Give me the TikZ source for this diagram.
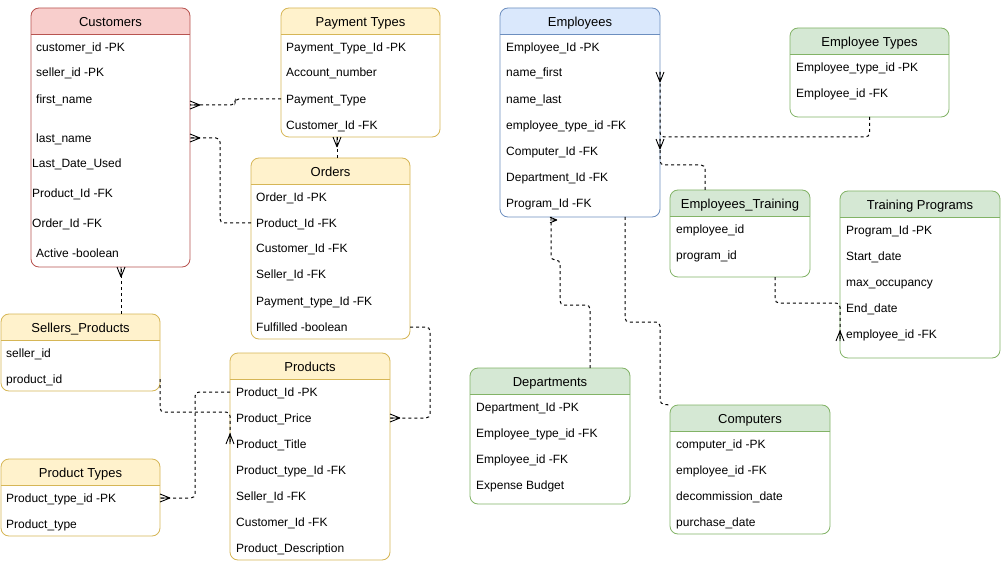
\documentclass[tikz,border=0pt]{standalone}
\usepackage{fontspec}
\setmainfont{Liberation Sans}
\usetikzlibrary{calc}
\definecolor{pinkF}{HTML}{F8CECC}\definecolor{pinkS}{HTML}{B85450}
\definecolor{yelF}{HTML}{FFF2CC}\definecolor{yelS}{HTML}{D6B656}
\definecolor{bluF}{HTML}{DAE8FC}\definecolor{bluS}{HTML}{6C8EBF}
\definecolor{grnF}{HTML}{D5E8D4}\definecolor{grnS}{HTML}{82B366}
\tikzset{
 row/.style={anchor=west, inner sep=0pt, text height=8.6pt, text depth=0pt, font=\fontsize{12}{14}\selectfont},
 hdr/.style={inner sep=0pt, text height=9.3pt, text depth=0pt, font=\fontsize{13}{15}\selectfont, yshift=-1pt},
 conn/.style={draw=black, line width=1pt, dash pattern=on 3pt off 3pt, rounded corners=4pt},
 crow/.pic={\draw[line width=0.9pt, solid] (10,0) -- (0,4) (10,0) -- (0,-4) (10,0) -- (0,0);},
}
\newcommand\ertab[9]{%
 \pgfmathsetmacro\ertW{#4-#2}\pgfmathsetmacro\ertH{#5-#3}%
 \begin{scope}\clip (#2,#3) rectangle (#4,#6);
 \fill[#7, rounded corners=8pt] (#2,#3) rectangle (#4,#5);\end{scope}
 \draw[#8, line width=0.8pt] (#2,#6) -- (#4,#6);
 \node[draw=#8, line width=0.8pt, rounded corners=8pt, inner sep=0pt, outer sep=0pt,
   minimum width=\ertW pt, minimum height=\ertH pt, anchor=north west] (#1) at (#2,#3) {};
 \node[hdr] (#1-t) at ($(#2,#3)!0.5!(#4,#6)$) {#9};
}
\begin{document}
\begin{tikzpicture}[x=1pt,y=-1pt]
\useasboundingbox (0,0) rectangle (1001,564);
\fill[white] (0,0) rectangle (1001,564);

% Customers
\ertab{cust}{31}{8}{190}{267}{34}{pinkF}{pinkS}{Customers}
\node[row] (cust-r1) at (36,47) {customer\_id -PK};
\node[row] (cust-r2) at (36,72) {seller\_id -PK};
\node[row] (cust-r3) at (36,99) {first\_name};
\node[row] (cust-r4) at (36,138) {last\_name};
\node[row] (cust-r5) at (32,163) {Last\_Date\_Used};
\node[row] (cust-r6) at (32,193) {Product\_Id -FK};
\node[row] (cust-r7) at (32,223) {Order\_Id -FK};
\node[row] (cust-r8) at (36,253) {Active -boolean};

% Payment Types
\ertab{pay}{281}{8}{440}{137}{34}{yelF}{yelS}{Payment Types}
\node[row] (pay-r1) at (286,47) {Payment\_Type\_Id -PK};
\node[row] (pay-r2) at (286,72) {Account\_number};
\node[row] (pay-r3) at (286,99) {Payment\_Type};
\node[row] (pay-r4) at (286,125) {Customer\_Id -FK};

% Orders
\ertab{ord}{251}{158}{410}{339}{184}{yelF}{yelS}{Orders}
\node[row] (ord-r1) at (256,197) {Order\_Id -PK};
\node[row] (ord-r2) at (256,223) {Product\_Id -FK};
\node[row] (ord-r3) at (256,248) {Customer\_Id -FK};
\node[row] (ord-r4) at (256,274) {Seller\_Id -FK};
\node[row] (ord-r5) at (256,301) {Payment\_type\_Id -FK};
\node[row] (ord-r6) at (256,327) {Fulfilled -boolean};

% Sellers_Products
\ertab{sp}{1}{314}{160}{391}{340}{yelF}{yelS}{Sellers\_Products}
\node[row] (sp-r1) at (6,353) {seller\_id};
\node[row] (sp-r2) at (6,379) {product\_id};

% Products
\ertab{prod}{230}{353}{390}{560}{379}{yelF}{yelS}{Products}
\node[row] (prod-r1) at (236,392) {Product\_Id -PK};
\node[row] (prod-r2) at (236,418) {Product\_Price};
\node[row] (prod-r3) at (236,444) {Product\_Title};
\node[row] (prod-r4) at (236,470) {Product\_type\_Id -FK};
\node[row] (prod-r5) at (236,496) {Seller\_Id -FK};
\node[row] (prod-r6) at (236,522) {Customer\_Id -FK};
\node[row] (prod-r7) at (236,548) {Product\_Description};

% Product Types
\ertab{ptyp}{1}{459}{160}{536}{485}{yelF}{yelS}{Product Types}
\node[row] (ptyp-r1) at (6,498) {Product\_type\_id -PK};
\node[row] (ptyp-r2) at (6,524) {Product\_type};

% Employees
\ertab{emp}{500}{8}{660}{217}{34}{bluF}{bluS}{Employees}
\node[row] (emp-r1) at (506,47) {Employee\_Id -PK};
\node[row] (emp-r2) at (506,72) {name\_first};
\node[row] (emp-r3) at (506,99) {name\_last};
\node[row] (emp-r4) at (506,125) {employee\_type\_id -FK};
\node[row] (emp-r5) at (506,151) {Computer\_Id -FK};
\node[row] (emp-r6) at (506,177) {Department\_Id -FK};
\node[row] (emp-r7) at (506,203) {Program\_Id -FK};

% Employee Types
\ertab{etyp}{790}{28}{949}{117}{54}{grnF}{grnS}{Employee Types}
\node[row] (etyp-r1) at (796,67) {Employee\_type\_id -PK};
\node[row] (etyp-r2) at (796,93) {Employee\_id -FK};

% Employees_Training
\ertab{etr}{670}{190}{810}{277}{216}{grnF}{grnS}{Employees\_Training}
\node[row] (etr-r1) at (676,229) {employee\_id};
\node[row] (etr-r2) at (676,255) {program\_id};

% Training Programs
\ertab{tp}{840}{191}{1000}{358}{217}{grnF}{grnS}{Training Programs}
\node[row] (tp-r1) at (846,230) {Program\_Id -PK};
\node[row] (tp-r2) at (846,256) {Start\_date};
\node[row] (tp-r3) at (846,282) {max\_occupancy};
\node[row] (tp-r4) at (846,308) {End\_date};
\node[row] (tp-r5) at (846,334) {employee\_id -FK};

% Departments
\ertab{dep}{470}{368}{630}{504}{394}{grnF}{grnS}{Departments}
\node[row] (dep-r1) at (476,407) {Department\_Id -PK};
\node[row] (dep-r2) at (476,433) {Employee\_type\_id -FK};
\node[row] (dep-r3) at (476,459) {Employee\_id -FK};
\node[row] (dep-r4) at (476,485) {Expense Budget};

% Computers
\ertab{comp}{670}{405}{830}{534}{431}{grnF}{grnS}{Computers}
\node[row] (comp-r1) at (676,444) {computer\_id -PK};
\node[row] (comp-r2) at (676,470) {employee\_id -FK};
\node[row] (comp-r3) at (676,496) {decommission\_date};
\node[row] (comp-r4) at (676,522) {purchase\_date};

% Connectors
\draw[conn] (pay.west |- pay-r3) -- (235,99) -- (235,105) -- (cust.east |- 0,105);
\pic at (cust.east |- 0,105) {crow};

\draw[conn] (ord.west |- ord-r2) -| (220,138) -- (cust.east |- cust-r4);
\pic at (cust.east |- cust-r4) {crow};

\draw[conn] (ord.north -| 337,0) -- (pay.south -| 337,0);
\pic[rotate=-90] at (pay.south -| 337,0) {crow};

\draw[conn] (sp.north -| 121,0) -- (cust.south -| 121,0);
\pic[rotate=-90] at (cust.south -| 121,0) {crow};

\draw[conn] (ord.east |- ord-r6) -- (430,327) |- (prod.east |- prod-r2);
\pic at (prod.east |- prod-r2) {crow};

\draw[conn] (sp.east |- sp-r2) |- (230,412) -- (prod.west |- prod-r3);
\pic[rotate=90] at (prod.west |- prod-r3) {crow};

\draw[conn] (prod.west |- prod-r1) -| (195,498) -- (ptyp.east |- ptyp-r1);
\pic at (ptyp.east |- ptyp-r1) {crow};

\draw[conn] (etyp.south) |- (emp.east |- 0,137) -- (emp.east |- emp-r2);
\pic[rotate=-90] at (emp.east |- emp-r2) {crow};

\draw[conn] (etr.north -| 705,0) |- (emp.east |- 0,165) -- (emp.east |- 0,139);
\pic[rotate=-90] at (emp.east |- 0,139) {crow};

\draw[conn] (dep.north -| 590,0) |- (560,305) -- (560,260) -| (emp.south -| 551,0);
\pic[scale=0.7] at ($(emp.south -| 550,0)+(0,3)$) {crow};

\draw[conn] (emp.south -| 625,0) |- (660,322) -- (660,404) -- (comp.north west);

\draw[conn] (etr.south -| 775,0) |- (840,303) -- ($(tp.west |- tp-r5)+(0,7)$);
\pic[rotate=90] at ($(tp.west |- tp-r5)+(0,7)$) {crow};
\end{tikzpicture}
\end{document}
